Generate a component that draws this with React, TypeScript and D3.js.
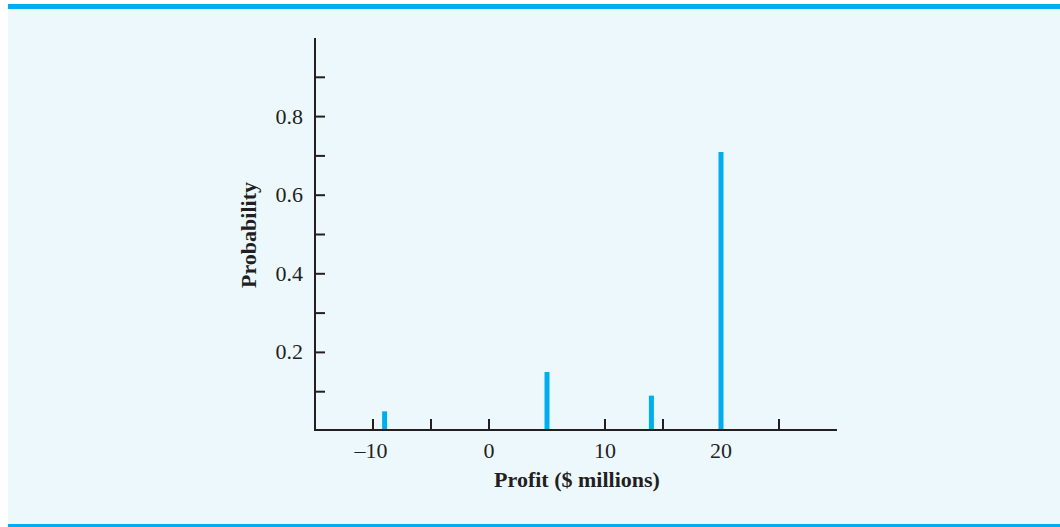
import React from "react";
import * as d3 from "d3";

const profits = [-9, 5, 14, 20];
const probabilities = [0.05, 0.15, 0.09, 0.71];
const xTicks = [-10, -5, 0, 10, 15, 25];
const xTickLabels = [-10, 0, 10, 20];
const yMajorTicks = [0.2, 0.4, 0.6, 0.8];
const yMinorTicks = [0.1, 0.3, 0.5, 0.7, 0.9];
const xTitle = "Profit ($ millions)";
const yTitle = "Probability";

const W = 1060;
const H = 527;
const BLUE = "#00AEEF";
const INK = "#231F20";
const FONT = "'Liberation Serif', 'Times New Roman', serif";

export default function App() {
  const x = d3.scaleLinear().domain([-15, 30]).range([315, 837]);
  const y = d3.scaleLinear().domain([0, 1]).range([431, 38]);
  const axisY = 430;

  return (
    <svg
      width={W}
      height={H}
      style={{ position: "absolute", left: 0, top: 0, display: "block" }}
    >
      <rect x={8} y={4} width={W - 8} height={H - 4} fill="#EDF8FD" />
      <rect x={8} y={4} width={W - 8} height={5} fill={BLUE} />
      <rect x={8} y={524} width={W - 8} height={3} fill={BLUE} />

      {profits.map((p, i) => (
        <rect
          key={"b" + i}
          x={x(p) - 2.5}
          y={y(probabilities[i])}
          width={5}
          height={axisY - y(probabilities[i])}
          fill={BLUE}
        />
      ))}

      {/* y axis */}
      <line x1={315} x2={315} y1={y(1)} y2={axisY + 1} stroke={INK} strokeWidth={2} />
      {[...yMajorTicks, ...yMinorTicks].map((t) => (
        <line key={"yt" + t} x1={315} x2={325} y1={y(t)} y2={y(t)} stroke={INK} strokeWidth={2} />
      ))}
      {yMajorTicks.map((t) => (
        <text
          key={"yl" + t}
          x={303}
          y={y(t) + 7}
          textAnchor="end"
          fontFamily={FONT}
          fontSize={22}
          fill={INK}
        >
          {d3.format(".1f")(t)}
        </text>
      ))}

      {/* x axis */}
      <line x1={314} x2={x(30)} y1={axisY} y2={axisY} stroke={INK} strokeWidth={2} />
      {xTicks.map((t) => (
        <line key={"xt" + t} x1={x(t)} x2={x(t)} y1={axisY} y2={axisY - 11} stroke={INK} strokeWidth={2} />
      ))}
      {xTickLabels.map((t) => (
        <text
          key={"xl" + t}
          x={x(t) - (t < 0 ? 2 : 0)}
          y={458}
          textAnchor="middle"
          fontFamily={FONT}
          fontSize={22}
          fill={INK}
        >
          {t < 0 ? "\u2013" + Math.abs(t) : String(t)}
        </text>
      ))}

      <text
        x={577}
        y={487}
        textAnchor="middle"
        fontFamily={FONT}
        fontSize={22}
        fontWeight="bold"
        fill={INK}
      >
        {xTitle}
      </text>
      <text
        transform={`translate(256, 235) rotate(-90)`}
        textAnchor="middle"
        fontFamily={FONT}
        fontSize={22}
        fontWeight="bold"
        fill={INK}
      >
        {yTitle}
      </text>
    </svg>
  );
}
